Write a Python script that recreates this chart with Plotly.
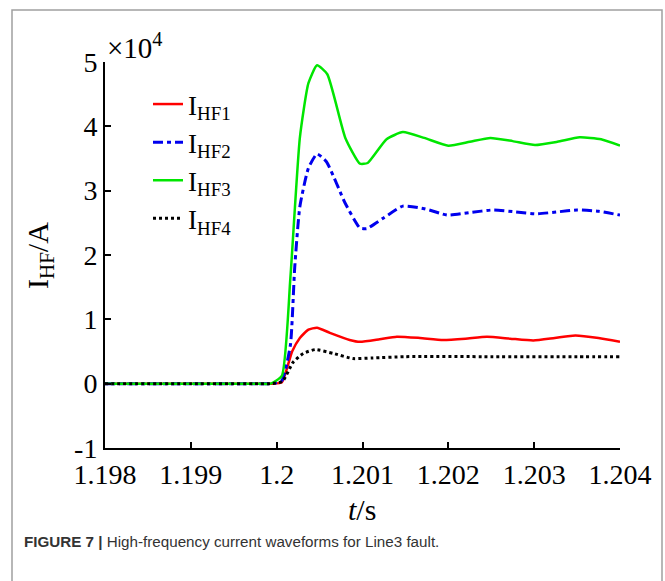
import plotly.graph_objects as go

# Data (currents in A)
t_hf1 = [1.198, 1.199, 1.1998, 1.19995, 1.20006, 1.20018, 1.20027, 1.20037, 1.20047, 1.20062, 1.20085, 1.20097,
         1.2012, 1.2014, 1.20167, 1.20194, 1.2022, 1.20245, 1.20272, 1.20299, 1.20324, 1.20348, 1.20375, 1.204]
i_hf1 = [0, 0, 0, 0, 200, 5000, 7100, 8400, 8700, 7900, 6800, 6500,
         6900, 7300, 7100, 6800, 7000, 7300, 7000, 6700, 7100, 7500, 7100, 6500]

t_hf2 = [1.198, 1.199, 1.1998, 1.19995, 1.20006, 1.20016, 1.20021, 1.20027, 1.20037, 1.20047, 1.20058, 1.2008,
         1.20097, 1.20105, 1.20125, 1.20147, 1.20172, 1.20199, 1.20225, 1.20252, 1.20278, 1.20303, 1.20327,
         1.2035, 1.20375, 1.204]
i_hf2 = [0, 0, 0, 0, 500, 6000, 18000, 27500, 33500, 35700, 34500, 28000,
         24200, 24100, 25800, 27600, 27200, 26200, 26600, 27000, 26700, 26400, 26700,
         27000, 26800, 26200]

t_hf3 = [1.198, 1.199, 1.1998, 1.19993, 1.20006, 1.20016, 1.20027, 1.20037, 1.20047, 1.20059, 1.2008, 1.20097,
         1.20106, 1.20128, 1.20147, 1.20172, 1.2020, 1.20225, 1.20249, 1.20275, 1.20301, 1.20327, 1.20353,
         1.20378, 1.204]
i_hf3 = [0, 0, 0, 0, 1200, 16500, 38200, 46700, 49500, 48100, 38200, 34200,
         34300, 38000, 39100, 38200, 37000, 37600, 38200, 37700, 37100, 37600, 38300,
         38000, 37000]

t_hf4 = [1.198, 1.199, 1.1998, 1.19995, 1.20007, 1.20019, 1.20031, 1.20045, 1.20066, 1.20089, 1.20112,
         1.2015, 1.2025, 1.2035, 1.204]
i_hf4 = [0, 0, 0, 0, 400, 3300, 4700, 5300, 4700, 3900, 4000,
         4200, 4200, 4200, 4200]

x_ticks = [1.198, 1.199, 1.2, 1.201, 1.202, 1.203, 1.204]
x_tick_text = ["1.198", "1.199", "1.2", "1.201", "1.202", "1.203", "1.204"]
y_ticks = [-10000, 0, 10000, 20000, 30000, 40000, 50000]
y_tick_text = ["-1", "0", "1", "2", "3", "4", "5"]

SERIF = "Liberation Serif"
SMOOTH = 0.5

fig = go.Figure()
fig.add_trace(go.Scatter(x=t_hf1, y=i_hf1, mode="lines", name="I<sub>HF1</sub>",
                         line=dict(color="#ff0000", width=2.5, shape="spline", smoothing=SMOOTH)))
fig.add_trace(go.Scatter(x=t_hf2, y=i_hf2, mode="lines", name="I<sub>HF2</sub>",
                         line=dict(color="#0000ee", width=3, dash="10px,4px,4px,4px",
                                   shape="spline", smoothing=SMOOTH)))
fig.add_trace(go.Scatter(x=t_hf3, y=i_hf3, mode="lines", name="I<sub>HF3</sub>",
                         line=dict(color="#00e600", width=2.5, shape="spline", smoothing=SMOOTH)))
fig.add_trace(go.Scatter(x=t_hf4, y=i_hf4, mode="lines", name="I<sub>HF4</sub>",
                         line=dict(color="#000000", width=3, dash="3px,3px",
                                   shape="spline", smoothing=SMOOTH)))

L, R, T, B = 105, 45, 62, 133
W, H = 665, 581
pw, ph = W - L - R, H - T - B

def px(x):
    return (x - L) / pw

def py(y):
    return (H - B - y) / ph

fig.update_layout(
    width=W, height=H,
    margin=dict(l=L, r=R, t=T, b=B),
    paper_bgcolor="white", plot_bgcolor="white",
    showlegend=True,
    legend=dict(x=px(148), y=py(80), xanchor="left", yanchor="top",
                font=dict(family=SERIF, size=27, color="black"),
                bgcolor="rgba(0,0,0,0)", borderwidth=0, tracegroupgap=0),
    xaxis=dict(range=[1.198, 1.204], tickvals=x_ticks, ticktext=x_tick_text,
               showgrid=False, zeroline=False, showline=True, linecolor="black", linewidth=2,
               ticks="inside", ticklen=6, tickwidth=2, tickcolor="black",
               tickfont=dict(family=SERIF, size=28, color="black")),
    yaxis=dict(range=[-10000, 50000], tickvals=y_ticks, ticktext=y_tick_text,
               showgrid=False, zeroline=False, showline=True, linecolor="black", linewidth=2,
               ticks="inside", ticklen=6, tickwidth=2, tickcolor="black",
               tickfont=dict(family=SERIF, size=28, color="black")),
    shapes=[dict(type="rect", xref="paper", yref="paper",
                 x0=px(12), x1=px(662), y0=py(620), y1=py(10),
                 line=dict(color="#a0a0a0", width=1.5), fillcolor="rgba(0,0,0,0)", layer="above")],
    annotations=[
        dict(text="×10<sup>4</sup>", xref="paper", yref="paper", x=px(105), y=py(46),
             xanchor="left", yanchor="middle", showarrow=False,
             font=dict(family=SERIF, size=29, color="black")),
        dict(text="I<sub>HF</sub>/A", xref="paper", yref="paper", x=px(40), y=py(256),
             xanchor="center", yanchor="middle", showarrow=False, textangle=-90,
             font=dict(family=SERIF, size=30, color="black")),
        dict(text="<i>t</i>/s", xref="paper", yref="paper", x=px(362), y=py(510),
             xanchor="center", yanchor="middle", showarrow=False,
             font=dict(family=SERIF, size=30, color="black")),
        dict(text="<b>FIGURE 7 |</b> High-frequency current waveforms for Line3 fault.",
             xref="paper", yref="paper", x=px(22), y=py(541),
             xanchor="left", yanchor="middle", showarrow=False,
             font=dict(family="Liberation Sans", size=15.2, color="#333333")),
    ],
)

fig.write_html("out.html")
